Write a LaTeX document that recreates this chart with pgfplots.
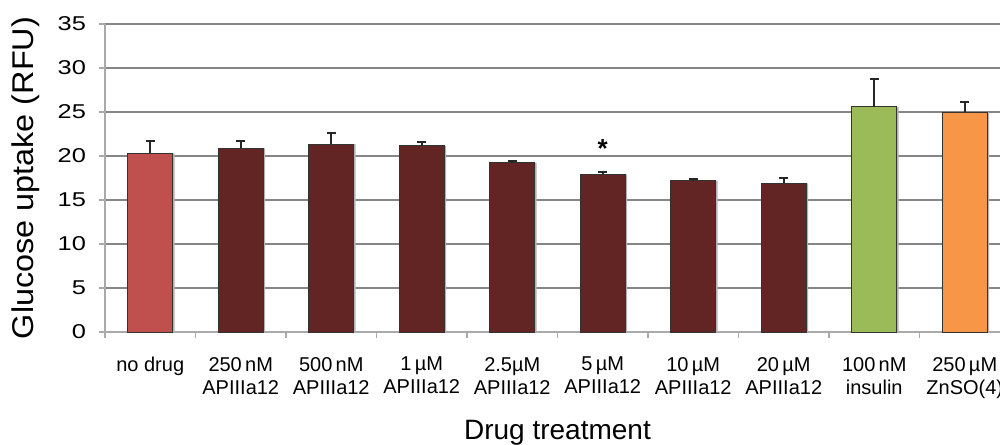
\documentclass[border=0pt]{standalone}
\usepackage{pgfplots}
\pgfplotsset{compat=1.18}
\usepackage{fontspec}
\setmainfont{Liberation Sans}
\newfontfamily\ytickfont[FakeStretch=1.27]{Liberation Sans}
\newfontfamily\ylabfont[FakeStretch=1.08]{Liberation Sans}
\definecolor{cnodrug}{HTML}{C0504D}
\definecolor{capi}{HTML}{632523}
\definecolor{cins}{HTML}{9BBB59}
\definecolor{czn}{HTML}{F79646}
\definecolor{cgrid}{HTML}{868686}
\begin{document}
\begin{tikzpicture}
\begin{axis}[
  scale only axis, width=452.5pt, height=154pt,
  xmin=-0.5, xmax=9.5, ymin=0, ymax=35,
  ytick={0,5,...,35},
  xtick={-0.5,0.5,...,9.5},
  x tick label as interval,
  xticklabels={{no drug},{250\,nM\\APIIIa12},{500\,nM\\APIIIa12},{1\,µM\\APIIIa12},{2.5µM\\APIIIa12},{5\,µM\\APIIIa12},{10\,µM\\APIIIa12},{20\,µM\\APIIIa12},{100\,nM\\insulin},{250\,µM\\ZnSO(4)}},
  ymajorgrids, grid style={cgrid, line width=0.6pt},
  axis x line*=bottom, axis y line*=left,
  axis line style={cgrid!70, line width=0.6pt},
  tick style={cgrid!70, line width=0.6pt},
  tick align=outside, major tick length=3pt,
  /pgf/number format/assume math mode=true,
  yticklabel style={font=\ytickfont\fontsize{10}{12}\selectfont, xshift=-3pt},
  xticklabel style={font=\fontsize{10}{11.5}\selectfont, align=center, yshift=-6pt},
  xlabel={Drug treatment},
  ylabel={Glucose uptake (RFU)},
  xlabel style={font=\fontsize{14}{16}\selectfont, yshift=-4pt},
  ylabel style={font=\ylabfont\fontsize{15}{18}\selectfont, yshift=2pt},
  ybar, bar width=0.5, bar shift=0pt,
  error bars/y dir=plus, error bars/y explicit,
  error bars/error bar style={black!85, line width=1pt},
  error bars/error mark options={rotate=90, mark size=2.3pt, black!85, line width=1pt},
]
% subtle bar shadows
\addplot[fill=black!30, draw=none, bar shift=0.018, forget plot] coordinates {
  (0,20.3) (1,20.87) (2,21.36) (3,21.14) (4,19.24) (5,17.92) (6,17.2) (7,16.9) (8,25.57) (9,25.0)};
\addplot[fill=cnodrug, draw=black!80, line width=0.5pt] coordinates {(0,20.3) +- (0,1.4)};
\addplot[fill=capi, draw=black!80, line width=0.5pt] coordinates {
  (1,20.87) +- (0,0.87)
  (2,21.36) +- (0,1.3)
  (3,21.14) +- (0,0.5)
  (4,19.24) +- (0,0.2)
  (5,17.92) +- (0,0.3)
  (6,17.2) +- (0,0.2)
  (7,16.9) +- (0,0.6)
};
\addplot[fill=cins, draw=black!80, line width=0.5pt] coordinates {(8,25.57) +- (0,3.15)};
\addplot[fill=czn, draw=black!80, line width=0.5pt] coordinates {(9,25.0) +- (0,1.1)};
\node[font=\fontsize{13}{15}\selectfont\bfseries] at (axis cs:5,20.9) {*};
\end{axis}
\pgfresetboundingbox
\useasboundingbox (-52.5pt,-56pt) rectangle (447.5pt,166pt);
\end{tikzpicture}
\end{document}
